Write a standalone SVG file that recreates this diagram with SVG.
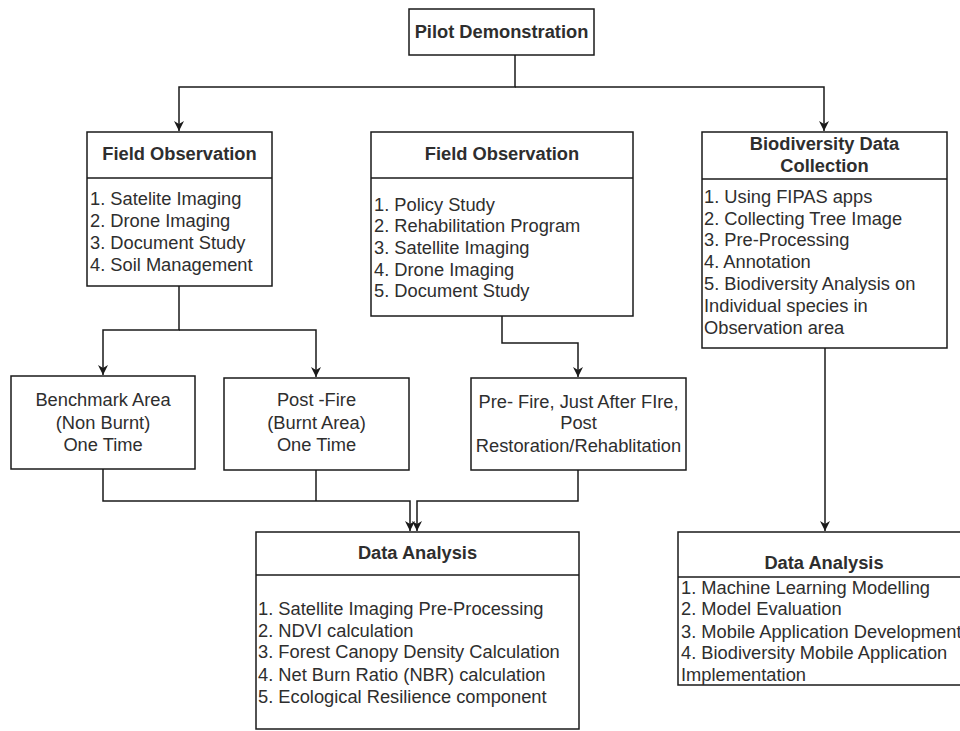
<svg xmlns="http://www.w3.org/2000/svg" width="960" height="731" viewBox="0 0 960 731">
  <style>
    .box { fill: #ffffff; stroke: #1a1a1a; stroke-width: 1.5; }
    .div { stroke: #1a1a1a; stroke-width: 1.5; }
    .edge { fill: none; stroke: #1a1a1a; stroke-width: 1.5; }
    .t { font-family: "Liberation Sans", Arial, sans-serif; font-size: 18.3px; fill: #2e2e2e; }
    .h { font-weight: bold; text-anchor: middle; }
    .c { text-anchor: middle; }
  </style>
  <defs>
    <marker id="arrow" markerUnits="userSpaceOnUse" markerWidth="10" markerHeight="10" refX="10" refY="5" orient="auto">
      <path d="M0,0 L10,5 L0,10 L3,5 z" fill="#1a1a1a"/>
    </marker>
  </defs>

  <rect width="960" height="731" fill="#ffffff"/>

  <!-- connectors -->
  <g id="connectors">
    <path class="edge" d="M515,55 V87 H179 V131" marker-end="url(#arrow)"/>
    <path class="edge" d="M515,87 H824 V131" marker-end="url(#arrow)"/>
    <path class="edge" d="M179,286 V330 H103 V375" marker-end="url(#arrow)"/>
    <path class="edge" d="M179,330 H316 V377" marker-end="url(#arrow)"/>
    <path class="edge" d="M502,316 V343 H578 V377" marker-end="url(#arrow)"/>
    <path class="edge" d="M103,469 V501 H410 V531" marker-end="url(#arrow)"/>
    <path class="edge" d="M316,470 V501"/>
    <path class="edge" d="M578,470 V501 H417 V531" marker-end="url(#arrow)"/>
    <path class="edge" d="M825,348 V531" marker-end="url(#arrow)"/>
  </g>

  <!-- top node -->
  <g id="pilot">
    <rect class="box" x="409" y="9" width="185" height="46"/>
    <text class="t h" x="501.5" y="38">Pilot Demonstration</text>
  </g>

  <!-- left field observation -->
  <g id="field-obs-left">
    <rect class="box" x="87" y="132" width="185" height="154"/>
    <line class="div" x1="87" y1="178" x2="272" y2="178"/>
    <text class="t h" x="179.5" y="160">Field Observation</text>
    <text class="t" x="90" y="205">1. Satelite Imaging</text>
    <text class="t" x="90" y="227">2. Drone Imaging</text>
    <text class="t" x="90" y="249">3. Document Study</text>
    <text class="t" x="90" y="271">4. Soil Management</text>
  </g>

  <!-- middle field observation -->
  <g id="field-obs-mid">
    <rect class="box" x="371" y="132" width="262" height="184"/>
    <line class="div" x1="371" y1="178" x2="633" y2="178"/>
    <text class="t h" x="502" y="160">Field Observation</text>
    <text class="t" x="374" y="211">1. Policy Study</text>
    <text class="t" x="374" y="232">2. Rehabilitation Program</text>
    <text class="t" x="374" y="254">3. Satellite Imaging</text>
    <text class="t" x="374" y="276">4. Drone Imaging</text>
    <text class="t" x="374" y="297">5. Document Study</text>
  </g>

  <!-- biodiversity data collection -->
  <g id="bio-collection">
    <rect class="box" x="702" y="132" width="245" height="216"/>
    <line class="div" x1="702" y1="179" x2="947" y2="179"/>
    <text class="t h" x="824.5" y="150">Biodiversity Data</text>
    <text class="t h" x="824.5" y="172">Collection</text>
    <text class="t" x="704" y="203">1. Using FIPAS apps</text>
    <text class="t" x="704" y="225">2. Collecting Tree Image</text>
    <text class="t" x="704" y="246">3. Pre-Processing</text>
    <text class="t" x="704" y="268">4. Annotation</text>
    <text class="t" x="704" y="290">5. Biodiversity Analysis on</text>
    <text class="t" x="704" y="312">Individual species in</text>
    <text class="t" x="704" y="334">Observation area</text>
  </g>

  <!-- benchmark area -->
  <g id="benchmark">
    <rect class="box" x="11" y="376" width="184" height="93"/>
    <text class="t c" x="103" y="406">Benchmark Area</text>
    <text class="t c" x="103" y="429">(Non Burnt)</text>
    <text class="t c" x="103" y="451">One Time</text>
  </g>

  <!-- post fire -->
  <g id="post-fire">
    <rect class="box" x="224" y="378" width="185" height="92"/>
    <text class="t c" x="316.5" y="406">Post -Fire</text>
    <text class="t c" x="316.5" y="429">(Burnt Area)</text>
    <text class="t c" x="316.5" y="451">One Time</text>
  </g>

  <!-- pre/post fire series -->
  <g id="fire-series">
    <rect class="box" x="471" y="378" width="215" height="92"/>
    <text class="t c" x="578.5" y="408">Pre- Fire, Just After FIre,</text>
    <text class="t c" x="578.5" y="429">Post</text>
    <text class="t c" x="578.5" y="452">Restoration/Rehablitation</text>
  </g>

  <!-- data analysis (imaging) -->
  <g id="analysis-left">
    <rect class="box" x="256" y="532" width="323" height="197"/>
    <line class="div" x1="256" y1="575" x2="579" y2="575"/>
    <text class="t h" x="417.5" y="559">Data Analysis</text>
    <text class="t" x="258" y="615">1. Satellite Imaging Pre-Processing</text>
    <text class="t" x="258" y="637">2. NDVI calculation</text>
    <text class="t" x="258" y="658">3. Forest Canopy Density Calculation</text>
    <text class="t" x="258" y="681">4. Net Burn Ratio (NBR) calculation</text>
    <text class="t" x="258" y="703">5. Ecological Resilience component</text>
  </g>

  <!-- data analysis (biodiversity) -->
  <g id="analysis-right">
    <rect class="box" x="678" y="532" width="292" height="153"/>
    <line class="div" x1="678" y1="577" x2="970" y2="577"/>
    <text class="t h" x="824" y="569">Data Analysis</text>
    <text class="t" x="681" y="594">1. Machine Learning Modelling</text>
    <text class="t" x="681" y="615">2. Model Evaluation</text>
    <text class="t" x="681" y="638">3. Mobile Application Development</text>
    <text class="t" x="681" y="659">4. Biodiversity Mobile Application</text>
    <text class="t" x="681" y="681">Implementation</text>
  </g>
</svg>
